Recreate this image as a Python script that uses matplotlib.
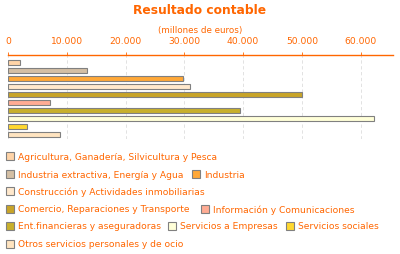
import matplotlib.pyplot as plt
from matplotlib.patches import Rectangle
from matplotlib.ticker import FuncFormatter

sectores = [
    "Agricultura, Ganadería, Silvicultura y Pesca",
    "Industria extractiva, Energía y Agua",
    "Industria",
    "Construcción y Actividades inmobiliarias",
    "Comercio, Reparaciones y Transporte",
    "Información y Comunicaciones",
    "Ent.financieras y aseguradoras",
    "Servicios a Empresas",
    "Servicios sociales",
    "Otros servicios personales y de ocio",
]
resultado = [2000, 13400, 29700, 30900, 50000, 7100, 39400, 62300, 3150, 8900]
colores = ["#FFD4A8", "#D4BFA4", "#FFA838", "#FFE8CC", "#C8A428",
           "#FFAC94", "#C8B02C", "#FFFFD8", "#FFD830", "#FFE4C0"]
ticks = [0, 10000, 20000, 30000, 40000, 50000, 60000]

naranja = "#FF6600"
W, H = 400, 255

fig = plt.figure(figsize=(4, 2.55), dpi=100)
ax = fig.add_axes([8 / W, 1 - 140 / H, 385 / W, 84 / H])

ax.barh(range(len(resultado)), resultado, height=0.72, color=colores,
        edgecolor="#808080", linewidth=0.8)
ax.set_xlim(0, 65500)
ax.set_ylim(9.56, -0.94)

ax.xaxis.tick_top()
ax.set_xticks(ticks)
ax.xaxis.set_major_formatter(FuncFormatter(lambda v, p: f"{int(v):,}".replace(",", ".")))
ax.tick_params(axis="x", colors=naranja, labelsize=6.6, length=2, width=0.6, pad=5)
ax.set_yticks([])
ax.grid(axis="x", color="#DDDDDD", linestyle=(0, (4, 3)), linewidth=0.6)
ax.set_axisbelow(True)
for s in ["left", "right", "bottom"]:
    ax.spines[s].set_visible(False)
ax.spines["top"].set_color(naranja)
ax.spines["top"].set_linewidth(1)

fig.text(0.5, 1 - 10 / H, "Resultado contable", color=naranja, fontsize=8.8,
         fontweight="bold", ha="center", va="center")
fig.text(0.5, 1 - 31 / H, "(millones de euros)", color=naranja, fontsize=6.3,
         ha="center", va="center")

# leyenda: (índice, x del cuadro, y de la fila) en píxeles
leyenda = [(0, 5.5, 157), (1, 5.5, 175), (2, 192, 175), (3, 5.5, 192),
           (4, 5.5, 210), (5, 201, 210), (6, 5.5, 227), (7, 167.5, 227),
           (8, 285.5, 227), (9, 5.5, 245)]
for i, x, y in leyenda:
    fig.patches.append(Rectangle((x / W, 1 - (y + 4) / H), 8 / W, 8 / H,
                                 transform=fig.transFigure, facecolor=colores[i],
                                 edgecolor="#808080", linewidth=0.8))
    fig.text((x + 12) / W, 1 - y / H, sectores[i], color=naranja, fontsize=6.6,
             ha="left", va="center")

fig.savefig("out.png", dpi=100)
